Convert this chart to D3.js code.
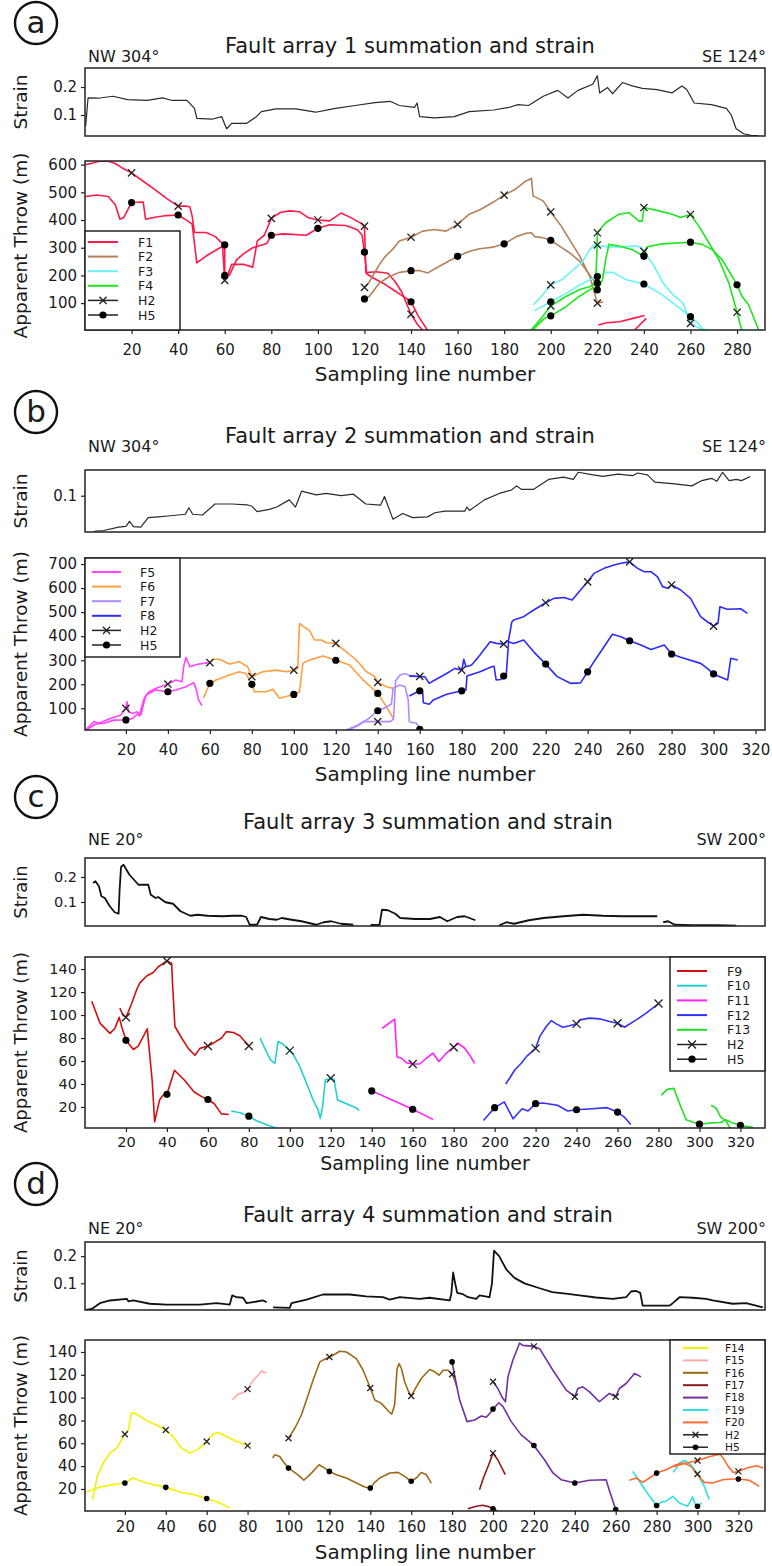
<!DOCTYPE html>
<html>
<head>
<meta charset="utf-8">
<script src="https://cdn.jsdelivr.net/npm/d3@7"></script>
<style>
  body { margin: 0; background: #fff; }
  text { font-family: "DejaVu Sans", sans-serif; fill: #1a1a1a; }
</style>
</head>
<body>
<svg id="chart" width="772" height="1566"></svg>
<script>
// ---------- data: [sampling line, value] ----------
// panel a (fault array 1)
const strainA = [[0.3,0.061],[1.3,0.161],[5.6,0.16],[12,0.167],[18.3,0.155],[26.8,0.152],[33.2,0.161],[37.5,0.152],[43.8,0.152],[47,0.124],[48,0.088],[54.5,0.085],[58.7,0.094],[60.8,0.051],[63,0.07],[69.3,0.07],[73.6,0.094],[75.7,0.112],[82,0.122],[90.6,0.122],[99,0.11],[107.6,0.124],[116,0.134],[124.5,0.144],[131,0.149],[135,0.134],[141.5,0.127],[142.6,0.143],[143.7,0.094],[150,0.09],[158.5,0.094],[165,0.112],[175.5,0.118],[182,0.127],[186,0.137],[190.4,0.134],[196.8,0.167],[203,0.188],[207.4,0.161],[211.7,0.188],[218,0.21],[220,0.24],[221,0.179],[224.4,0.198],[226.5,0.176],[230.8,0.216],[235,0.204],[239.3,0.195],[245.7,0.191],[252,0.179],[256.3,0.204],[258.4,0.191],[261.6,0.143],[269,0.137],[275.4,0.124],[277.5,0.1],[279.6,0.051],[282.8,0.033],[286,0.027],[289,0.026]];
const f1H2 = [[0.3,600],[3,605],[6,612],[10,612],[13,604],[16,588],[20,570],[25,540],[30,510],[35,478],[40,450],[43,450],[45,448],[46,415],[47,355],[52,355],[56,340],[59,315],[60,182],[61,195],[63,240],[68,240],[72,230],[74,325],[77,345],[80,406],[84,428],[88,433],[92,430],[96,408],[100,400],[105,397],[110,425],[115,405],[119,385],[120,378],[120.6,210],[125,213],[130,208],[133,180],[136,140],[140,60],[143,20],[145,3]];
const f1H5 = [[0.3,485],[5,490],[10,485],[13,455],[15,403],[16.6,409],[20,463],[25,465],[26,403],[30,410],[35,416],[40,418],[44,397],[46,385],[48,245],[52,270],[56,290],[60,310],[60,200],[62,200],[65,255],[68,278],[72,300],[76,310],[78,315],[80,345],[85,350],[95,345],[100,370],[105,383],[112,380],[117,365],[119,345],[120,284],[121,205],[124,190],[128,172],[132,150],[136,128],[140,105],[143,55],[147,3]];
const f1H2b = [[220.4,21],[224,29],[229.6,33],[235.3,45],[240.3,55]];
const f1H5b = [[236,3],[241,45]];
const f2H2 = [[120,157],[122,175],[124,205],[126.4,239],[129,269],[132,293],[135,324],[140,338],[145,360],[150,366],[155,360],[160,384],[165,421],[170,439],[175,463],[180,490],[185,512],[189.5,542],[191.7,550],[192.4,487],[196.7,469],[200,429],[204,384],[208,330],[212.5,269],[216.8,196],[220,100],[222.5,105]];
const f2H5 = [[120,115],[122,124],[126.4,172],[130.7,196],[135,211],[140,217],[143.6,218],[147.2,209],[152.2,233],[160,269],[165.2,287],[169.5,296],[175.2,302],[180,314],[185.2,340],[189.5,352],[191.7,354],[193.1,340],[196.7,336],[200,327],[203.9,305],[208.2,281],[212.5,251],[216.1,209],[218.2,184],[220,172]];
const f3H2 = [[192.4,93],[195.3,118],[200,166],[204.6,184],[208.9,215],[213.2,245],[216.8,293],[218.9,312],[220,310],[221.1,306],[225.4,303],[231.1,303],[236.8,306],[239,300],[240,287],[244,239],[248.3,172],[252.5,130],[256.8,100],[260,27],[264,9],[267.5,1]];
const f3H5 = [[193.1,73],[200,105],[206.8,136],[212.5,166],[218.2,190],[220,196],[223.9,211],[226.8,211],[232.5,184],[240,169],[246.8,136],[252.5,100],[258.2,63],[260,51],[263.3,27],[265.5,3]];
const f4H2 = [[191.6,3],[195.9,45],[200,90],[206.5,124],[212.2,148],[217.9,163],[219.3,184],[219.7,257],[220,354],[223.6,390],[229.3,421],[233.6,427],[237.9,396],[239.3,396],[240,445],[246.4,433],[252.2,421],[255.7,409],[260,420],[263.6,378],[267.9,318],[272.2,257],[276.5,172],[280,67],[282.2,-3]];
const f4H5 = [[192.3,3],[197.3,45],[200,54],[206.5,87],[212.2,124],[217.9,154],[220,148],[222.2,184],[223.6,257],[225,312],[229.3,306],[235,293],[240,269],[241.4,303],[247.8,314],[260,320],[265,312],[269.3,293],[273.6,257],[277.9,196],[280,166],[282.2,124],[285,93],[289.3,3]];

// panel b (fault array 2)
const strainB = [[4.7,0.006],[9.4,0.008],[16.5,0.017],[20,0.019],[21.7,0.032],[23.6,0.018],[27.1,0.017],[30.6,0.042],[35.4,0.044],[41.2,0.047],[48.3,0.051],[50,0.068],[51.8,0.051],[56.5,0.049],[62.4,0.078],[70.6,0.078],[77.7,0.076],[80.1,0.072],[82.5,0.058],[88.3,0.064],[91.9,0.07],[97.8,0.089],[100.8,0.07],[103.7,0.112],[110.7,0.102],[115.4,0.106],[122.5,0.1],[128.4,0.104],[134.3,0.078],[141.3,0.075],[143.2,0.098],[147.2,0.038],[151.9,0.053],[156.6,0.042],[163.7,0.044],[167.2,0.055],[172,0.059],[181.4,0.059],[182.5,0.07],[183.7,0.061],[190.8,0.089],[197.9,0.106],[203.7,0.115],[206.1,0.126],[208.4,0.117],[214.3,0.117],[221.4,0.143],[228.4,0.149],[233.2,0.143],[235.5,0.162],[242.6,0.155],[247.3,0.151],[254.4,0.157],[261.4,0.153],[263.8,0.16],[268.5,0.155],[272,0.136],[280.3,0.132],[289.7,0.126],[294.4,0.14],[299.1,0.146],[301.5,0.138],[304.3,0.162],[307.4,0.14],[310.9,0.143],[313.3,0.14],[317.5,0.151]];
const f5H2 = [[0.8,10],[4.8,45],[7.2,38],[11.9,56],[17.5,72],[20,100],[20.5,128],[21.2,86],[23.1,79],[25.5,86],[26.3,68],[28.7,142],[31,169],[35,186],[40,201],[43.8,218],[46.7,211],[47.5,273],[48.6,312],[50.5,273],[54.1,283],[59.4,290]];
const f5H5 = [[1.1,10],[5.6,35],[9.6,38],[14.3,51],[20,52],[23.1,58],[26,79],[27.1,72],[29.5,155],[34.2,176],[40,169],[43.8,176],[48.6,190],[52.2,207],[53.4,183],[54.6,135],[56.2,111]];
const f6H2 = [[60,290],[61.3,304],[64.5,304],[69.3,284],[74,294],[78,273],[80,232],[85.2,252],[91.6,259],[96.4,252],[100,259],[101.9,266],[102.7,453],[105.1,437],[107.5,423],[109.9,384],[113.1,384],[115.5,373],[120,370],[125,335],[129.8,301],[134.6,252],[138.6,232],[140,208],[144.1,190],[147.3,183]];
const f6H5 = [[56.9,142],[60,204],[63,218],[69.3,239],[74,252],[77.2,245],[80,200],[81.2,169],[86.8,169],[90,179],[93.2,142],[97.2,151],[100,158],[102.7,169],[104.3,287],[107.5,301],[113.9,318],[120,300],[126.6,280],[133,218],[140,162],[144.1,107],[147.3,58]];
const f7H2 = [[125,10],[130.6,31],[133,45],[140,45],[146,45],[147.5,55],[148.5,215],[150.5,238],[153,245],[155.3,236],[157.5,236]];
const f7H5 = [[126,10],[131,30],[136,60],[140,90],[144,105],[146.5,118],[147.3,183],[150.5,197],[153,190],[154.5,135],[155,44],[158.5,38],[160,13]];
const f8H2 = [[155,234],[160,233],[162.5,231],[164.5,204],[167.2,218],[172.8,245],[176.8,266],[180,259],[181,304],[182,273],[184.7,280],[188.7,322],[193.5,377],[196.7,370],[200,367],[202.3,384],[203.9,460],[204.7,467],[209.5,481],[214.3,509],[220,539],[223.9,557],[228.7,561],[232.6,550],[236.6,592],[240,626],[243,661],[247.8,682],[252.6,696],[255.8,703],[260,709],[263.8,682],[267,668],[270.2,668],[273.3,647],[275.7,606],[278.2,599],[280,613],[284.3,592],[289,557],[293.8,481],[297,460],[300,442],[302.1,453],[303,522],[306.5,512],[312.9,514],[316.1,495]];
const f8H5 = [[155,151],[160,173],[161.4,168],[161.7,123],[164.5,117],[166.5,135],[172.8,159],[180,173],[182,176],[182.5,234],[188.7,252],[194.3,273],[195.4,275],[196.4,218],[198.6,220],[200,234],[201.2,236],[202.3,377],[204.7,370],[209.5,384],[214.3,335],[220,284],[225.5,232],[231.8,204],[236.6,206],[240,252],[243,294],[247.8,356],[251.8,408],[255.8,398],[260,381],[265.3,363],[270.2,345],[276.5,363],[280,326],[284.3,312],[293.8,287],[297,266],[300,243],[302.7,232],[306.7,218],[308.2,308],[311.5,301]];

// panel c (fault array 3)
const strainC = [[3.9,0.176],[5.1,0.183],[6.8,0.163],[8,0.123],[9.7,0.116],[12.1,0.083],[14.5,0.059],[16.4,0.053],[16.9,0.149],[17.6,0.24],[18.8,0.249],[21.7,0.209],[26.1,0.169],[30.9,0.169],[32.1,0.129],[34.5,0.116],[35.7,0.12],[39.3,0.099],[43,0.093],[46.6,0.063],[51.4,0.045],[55,0.049],[59.8,0.045],[67.1,0.043],[71.9,0.045],[76.7,0.045],[78.7,0.04],[80.4,0.009],[84,0.009],[85.9,0.04],[90,0.032],[93.6,0.029],[96,0.036],[100.9,0.029],[105.7,0.023],[112.9,0.009],[116.5,0.019],[120.2,0.023],[125,0.013],[131,0.009],[135,null],[139.5,0.008],[143.8,0.009],[145,0.069],[147.9,0.067],[151.5,0.053],[153.9,0.036],[161.2,0.032],[168.4,0.032],[173.3,0.04],[176.9,0.023],[181.7,0.04],[185.3,0.043],[187.7,0.036],[190.6,0.027],[196,null],[202.2,0.007],[205.8,0.019],[209.5,0.013],[216.7,0.027],[223.9,0.036],[233.6,0.043],[243.2,0.049],[252.9,0.045],[262.5,0.043],[272.2,0.043],[279.4,0.043],[281,null],[282.3,0.019],[284.7,0.023],[287.9,0.009],[296.3,0.007],[308.4,0.007],[318,0.005]];
const f9H2 = [[17,106],[18.5,100],[20,98],[22.8,110],[25.2,122],[26.8,128],[30.1,134],[33.3,137],[35.8,142],[40,147],[42.3,145],[42.8,125],[43.9,90],[47.2,80],[50.4,71],[53.7,65],[56.1,71],[60,73],[62.6,75.5],[66.7,80],[69.1,85.6],[72.4,84.8],[75.6,82],[80,73]];
const f9H5 = [[3.3,112],[7.3,93],[12.2,84],[14.6,88.5],[16.7,98],[17.9,90],[20,78],[23.6,70],[26,73],[30.4,88],[32.8,43],[34,7],[36.4,26],[38,30],[40,31],[43.7,52],[48.5,43.5],[53.3,33],[57,29],[60,26.5],[63,23],[66.6,14],[70.2,13.5]];
const f10H2 = [[85.5,80],[88.6,68],[90.6,61],[92.7,58],[94.3,77],[96.4,75],[100,69],[101.6,66],[104.9,55],[108.1,41],[111.4,26],[113.7,18],[114.9,10],[116.1,21.5],[117.3,43.5],[120,45],[121.6,44],[123.3,26],[125.7,24.4],[129.4,21.5],[132.3,19.4],[133.7,17]];
const f10H5 = [[71.4,16.5],[76.2,14.7],[80,12],[83.5,8.2],[88.3,4.7],[94.4,1]];
const f11H2 = [[145.2,88.5],[151.2,96.4],[152.3,63.8],[154.5,62.4],[156.9,58.6],[160,57.4],[163.4,57.4],[166.7,62.4],[169.9,66.8],[172.8,59.5],[176.4,66.8],[180,72],[182.1,75.5],[185.4,71.1],[187.8,65.3],[190.2,58]];
const f11H5 = [[140,34],[150,26],[160,18],[170,9]];
const f12H2 = [[205.4,40],[207.3,45],[209.8,52.2],[213,58],[215.5,63.8],[220,71],[222,81.2],[225.2,90],[227.7,95.2],[230.1,92.3],[233.3,89.4],[236.6,90.6],[240,92.3],[241.5,95.8],[246.3,97.3],[251.2,96.7],[256.1,94.3],[260,92.9],[263.4,89.4],[269.1,95.8],[274,101.6],[280,110]];
const f12H5 = [[194.5,8.2],[200,19.4],[204.7,24.4],[209,9.7],[213.4,18.5],[216.3,16.5],[220,22.9],[223.5,23.5],[230.7,21.5],[235.6,16.5],[240,17.6],[247.6,18.5],[254.9,19.4],[260,15.6],[263.3,11.2],[266.5,4.7]];
const f13H2 = [[305.6,21.5],[308,19.4],[310.4,11.2],[312.8,8.2],[315.2,1]];
const f13H5 = [[281.4,30.3],[284.3,35.3],[287.5,36.2],[290.6,21.5],[293.5,8.8],[297.1,6.8],[300,5],[304.4,5.9],[310.4,6.5],[312.8,8.8],[315.2,6.8],[320,4],[326.1,2.4]];

// panel d (fault array 4)
const strainD = [[1,0.002],[3.8,0.006],[7.8,0.027],[12.7,0.037],[20.9,0.043],[21.7,0.034],[24.1,0.037],[32.2,0.025],[40.4,0.022],[56.7,0.022],[64.8,0.027],[71.3,0.022],[72.5,0.056],[74.6,0.049],[77.8,0.047],[79.5,0.027],[82.7,0.031],[87.6,0.037],[89.3,0.031],[90.5,null],[92.5,0.012],[100.6,0.01],[101.5,0.027],[108.8,0.04],[116.9,0.059],[130,0.059],[138,0.052],[146.2,0.049],[149.5,0.04],[154.4,0.049],[164.1,0.043],[169,0.047],[178.8,0.037],[179.6,0.06],[180.5,0.14],[181.5,0.1],[182.5,0.065],[185.3,0.06],[187.8,0.049],[191.8,0.043],[193.4,0.056],[198.3,0.049],[199.5,0.1],[200.5,0.22],[203,0.2],[206.6,0.15],[210.5,0.12],[215.4,0.1],[222.8,0.082],[229,0.068],[235.6,0.062],[242.3,0.056],[250.4,0.048],[258.6,0.043],[265.1,0.049],[267.5,0.07],[270,0.072],[272,0.065],[273.2,0.018],[286.3,0.018],[287.9,0.027],[291.2,0.049],[297.7,0.047],[304.2,0.043],[307.4,0.037],[317.2,0.025],[323.8,0.027],[331.9,0.012]];
const f14H2 = [[4.2,10.7],[6.5,31],[9.4,42.7],[12.7,51.4],[16,55.7],[20,68],[21.7,71.7],[23.3,86.8],[25.7,85.7],[31.4,79],[35.5,76.1],[40,71.7],[43.6,65.9],[47.7,55.7],[51.8,51.4],[55.9,54.9],[60,61.6],[63.2,68.2],[65.6,69.4],[69.7,65.9],[74.6,61.6],[80,58]];
const f14H5 = [[0.5,17.1],[7.8,21.7],[14.3,23.8],[20,25.2],[23.8,29.6],[30.6,25.2],[40,21.4],[46.9,17.4],[53.4,15.1],[60,11.6],[66.4,7.8],[71.3,3.4]];
const f15H2 = [[72.5,97.9],[75.4,103.1],[77.8,104.3],[80,107.5],[82.7,115.3],[85.2,119.7],[86.8,123.4],[89.2,121.1]];
const f16H2 = [[100,64.5],[103.1,73.2],[106.3,84.8],[108.8,97.9],[112,115.3],[115.3,131.3],[117.7,133.6],[120,135.6],[121.8,137.1],[125,140.6],[128.3,140],[133.2,134.2],[136.5,124],[140,108.5],[142.2,97.9],[145.4,95],[148.7,88.5],[150.5,85.5],[151.9,93.5],[153.1,125.5],[154.1,129.8],[155.2,125.5],[156.8,113.9],[158.4,106.6],[160,101.4],[162.5,109.5],[164.9,116.8],[169,124.6],[171.5,122.6],[173.6,119.7],[175.6,124],[178,124],[180,120.5],[181.3,115.3],[182.4,108.9]];
const f16H5 = [[92.2,47],[93.3,49.9],[95.7,48.5],[97.4,44.1],[100,38.3],[102.3,35.4],[105,31.9],[107.5,27.6],[111.2,33.9],[115,41.2],[117.7,38.3],[120,35.4],[123.4,32.5],[128.3,29.6],[133.2,25.2],[137.3,21.7],[140,20.9],[142.2,25.8],[144.6,29.6],[149.5,34],[153.6,34.5],[156.8,31],[160,26.7],[162.5,29.6],[164.9,34.5],[167.4,32.5],[169.8,25.2]];
const f17H2 = [[193.4,19.4],[195.3,29.6],[197.9,41.2],[200,51.4],[202.3,45.6],[206,32.5]];
const f17H5 = [[187.7,2.6],[191.8,4.9],[195,5.8],[198.3,4.3],[200,2.6],[202.3,0.5]];
const f18H2 = [[200,113.9],[202.4,108],[204.5,100.2],[206.1,96.4],[207.3,118.2],[209.7,132.7],[213,147.8],[214.6,145.8],[220,144.9],[222.8,142.9],[229.3,124],[235.8,106.6],[240,100.8],[241.5,108],[243.9,109.5],[247.2,105.1],[252,96.4],[256.9,103.7],[260,100.8],[261.8,108],[265.1,112.4],[269.2,121.1],[272.4,118.2]];
const f18H5 = [[180,131.3],[182,112.4],[183.7,97.9],[187.3,79],[191,80.4],[194.3,83.9],[196.7,82.8],[199.1,87.7],[200,90],[202.9,95.5],[204.9,92.1],[208.9,79],[213.8,67.4],[220,58.1],[225.2,45.6],[229.3,34],[233.3,28.1],[240,25.2],[247.2,27.6],[255.3,28.1],[257.3,16.5],[260,2]];
const f19H2 = [[288.2,34.5],[291.1,42.7],[293.6,45],[296.8,41.2],[300,33.1],[303.3,22.3],[305.7,10.7]];
const f19H5 = [[268.3,35.4],[271.6,26.7],[274.8,18],[278.1,10.1],[280,5.5],[282.2,8.4],[284.6,9.3],[287.9,13.6],[291.1,7.8],[295.2,4.9],[297.6,13],[298.9,6.3],[300,4.9],[302.1,7.8]];
const f20H2 = [[288.2,39.8],[294.7,42.7],[300,45],[306.1,48.5],[311,50.5],[312.6,47],[315,39.8],[317.5,34.5],[320,35.4],[324,38.3],[328.9,40.3],[332.1,38.3]];
const f20H5 = [[266.7,27.6],[270,29.6],[273.2,25.8],[276.5,29.6],[280,33.9],[284.6,36.9],[289.5,41.2],[293.1,42.7],[296.8,39.8],[299.5,33.4],[303.3,25.8],[307.4,25.2],[312.3,28.1],[317.2,28.7],[320,28.7],[325.3,27.6],[330.2,22.3]];

// ---------- panel setup ----------
const L = 85, R = 765;
const colors = {
  F1: '#ff1a47', F2: '#b4825a', F3: '#66f4f4', F4: '#1ee61e',
  F5: '#ff44ff', F6: '#ff9f3f', F7: '#ad8cff', F8: '#2b2bff',
  F9: '#d01010', F10: '#22d0d0', F11: '#ff22ff', F12: '#3232ff', F13: '#22e022',
  F14: '#f2f200', F15: '#ffaaaa', F16: '#9c6a16', F17: '#8b1a1a', F18: '#7030a0', F19: '#30e0e0', F20: '#ff6a30'
};

const panels = [
  { letter: 'a', title: 'Fault array 1 summation and strain', dirL: 'NW 304°', dirR: 'SE 124°',
    circleY: 23, titleX: 410, titleY: 53, dirY: 62,
    sBox: [68, 136], sDom: [0.025, 0.268], sTicks: [0.1, 0.2], strain: strainA, sW: 1.2, sCol: '#2a2a2a',
    tBox: [161, 330], tDom: [3, 613], tTicks: d3.range(100, 601, 100),
    xDom: [0, 292], xTicks: d3.range(20, 281, 20), tickFs: 15, labFs: 18.5, xlabFs: 20, tickY: 355, xlabY: 381,
    series: [['F1', f1H2, 'H2'], ['F1', f1H5, 'H5'], ['F1', f1H2b, null], ['F1', f1H5b, null],
             ['F2', f2H2, 'H2'], ['F2', f2H5, 'H5'], ['F3', f3H2, 'H2'], ['F3', f3H5, 'H5'],
             ['F4', f4H2, 'H2'], ['F4', f4H5, 'H5']],
    legend: { names: ['F1', 'F2', 'F3', 'F4'], x: 85, y: 231, w: 95, h: 99, row: 14.6, first: 11, lx: 3, lw: 30, tx: 53, fs: 12.5 },
    mk: 3.6, dot: 3.6 },
  { letter: 'b', title: 'Fault array 2 summation and strain', dirL: 'NW 304°', dirR: 'SE 124°',
    circleY: 412, titleX: 410, titleY: 443, dirY: 452,
    sBox: [470, 532], sDom: [0.004, 0.168], sTicks: [0.1], strain: strainB, sW: 1.2, sCol: '#2a2a2a',
    tBox: [558, 730], tDom: [10, 725], tTicks: d3.range(100, 701, 100),
    xDom: [0.5, 324.5], xTicks: d3.range(20, 321, 20), tickFs: 15, labFs: 18.5, xlabFs: 20, tickY: 755, xlabY: 781,
    series: [['F5', f5H2, 'H2'], ['F5', f5H5, 'H5'], ['F6', f6H2, 'H2'], ['F6', f6H5, 'H5'],
             ['F7', f7H2, 'H2'], ['F7', f7H5, 'H5'], ['F8', f8H2, 'H2'], ['F8', f8H5, 'H5']],
    legend: { names: ['F5', 'F6', 'F7', 'F8'], x: 85, y: 558, w: 95, h: 99, row: 14.6, first: 14, lx: 7, lw: 29, tx: 55, fs: 12.5 },
    mk: 3.6, dot: 3.6 },
  { letter: 'c', title: 'Fault array 3 summation and strain', dirL: 'NE 20°', dirR: 'SW 200°',
    circleY: 797, titleX: 428, titleY: 829, dirY: 845,
    sBox: [858, 926], sDom: [0.004, 0.276], sTicks: [0.1, 0.2], strain: strainC, sW: 1.8, sCol: '#111',
    tBox: [957, 1128], tDom: [1.7, 150.5], tTicks: d3.range(20, 141, 20),
    xDom: [0, 332], xTicks: d3.range(20, 321, 20), tickFs: 14.5, labFs: 18, xlabFs: 19, tickY: 1147, xlabY: 1170,
    series: [['F9', f9H2, 'H2'], ['F9', f9H5, 'H5'], ['F10', f10H2, 'H2'], ['F10', f10H5, 'H5'],
             ['F11', f11H2, 'H2'], ['F11', f11H5, 'H5'], ['F12', f12H2, 'H2'], ['F12', f12H5, 'H5'],
             ['F13', f13H2, null], ['F13', f13H5, 'H5']],
    legend: { names: ['F9', 'F10', 'F11', 'F12', 'F13'], x: 670, y: 957, w: 95, h: 114, row: 14.7, first: 14, lx: 7, lw: 30, tx: 57, fs: 12.5 },
    mk: 4, dot: 3.6 },
  { letter: 'd', title: 'Fault array 4 summation and strain', dirL: 'NE 20°', dirR: 'SW 200°',
    circleY: 1184, titleX: 428, titleY: 1222, dirY: 1234,
    sBox: [1242, 1310], sDom: [0.002, 0.252], sTicks: [0.1, 0.2], strain: strainD, sW: 1.8, sCol: '#111',
    tBox: [1340, 1511], tDom: [0.7, 150.5], tTicks: d3.range(20, 141, 20),
    xDom: [0.5, 333], xTicks: d3.range(20, 321, 20), tickFs: 15, labFs: 18, xlabFs: 20, tickY: 1532, xlabY: 1559,
    series: [['F14', f14H2, 'H2'], ['F14', f14H5, 'H5'], ['F15', f15H2, 'H2'],
             ['F16', f16H2, 'H2'], ['F16', f16H5, 'H5'], ['F17', f17H2, 'H2'], ['F17', f17H5, 'H5'],
             ['F18', f18H2, 'H2'], ['F18', f18H5, 'H5'], ['F19', f19H2, 'H2'], ['F19', f19H5, 'H5'],
             ['F20', f20H2, 'H2'], ['F20', f20H5, 'H5']],
    legend: { names: ['F14', 'F15', 'F16', 'F17', 'F18', 'F19', 'F20'], x: 670, y: 1340, w: 95, h: 114, row: 12.4, first: 8, lx: 13, lw: 25, tx: 55, fs: 10.6 },
    mk: 3, dot: 2.8 }
];

const svg = d3.select('#chart');

function drawMarker(g, kind, cx, cy, p) {
  if (kind === 'H2') {
    const s = p.mk;
    g.append('path')
      .attr('d', `M${cx - s},${cy - s}L${cx + s},${cy + s}M${cx - s},${cy + s}L${cx + s},${cy - s}`)
      .attr('stroke', '#222').attr('stroke-width', 1.3).attr('fill', 'none');
  } else {
    g.append('circle').attr('cx', cx).attr('cy', cy).attr('r', p.dot).attr('fill', '#000');
  }
}

function styleAxis(g, fs) {
  g.select('.domain').remove();
  g.selectAll('.tick line').attr('stroke', '#222').attr('stroke-width', 1.2);
  g.selectAll('.tick text').attr('font-size', fs).attr('fill', '#1a1a1a')
    .attr('font-family', '"DejaVu Sans", sans-serif');
}

panels.forEach((p, pi) => {
  const g = svg.append('g');
  const x = d3.scaleLinear().domain(p.xDom).range([L, R]);
  const ys = d3.scaleLinear().domain(p.sDom).range([p.sBox[1], p.sBox[0]]);
  const yt = d3.scaleLinear().domain(p.tDom).range([p.tBox[1], p.tBox[0]]);

  // panel letter in a circle
  g.append('circle').attr('cx', 36).attr('cy', p.circleY).attr('r', 21)
    .attr('fill', 'none').attr('stroke', '#111').attr('stroke-width', 2.4);
  g.append('text').attr('x', 36).attr('y', p.circleY + 10).attr('text-anchor', 'middle')
    .attr('font-size', 31).text(p.letter);

  // titles
  g.append('text').attr('x', p.titleX).attr('y', p.titleY).attr('text-anchor', 'middle')
    .attr('font-size', 21).text(p.title);
  g.append('text').attr('x', 88).attr('y', p.dirY).attr('font-size', 16).text(p.dirL);
  g.append('text').attr('x', 766).attr('y', p.dirY).attr('text-anchor', 'end').attr('font-size', 16).text(p.dirR);

  // clip paths
  const defs = g.append('defs');
  defs.append('clipPath').attr('id', 'cs' + pi).append('rect')
    .attr('x', L).attr('y', p.sBox[0]).attr('width', R - L).attr('height', p.sBox[1] - p.sBox[0]);
  defs.append('clipPath').attr('id', 'ct' + pi).append('rect')
    .attr('x', L).attr('y', p.tBox[0]).attr('width', R - L).attr('height', p.tBox[1] - p.tBox[0]);

  // strain subplot
  const sLine = d3.line().defined(d => d[1] !== null).x(d => x(d[0])).y(d => ys(d[1]));
  g.append('path').datum(p.strain).attr('d', sLine).attr('clip-path', `url(#cs${pi})`)
    .attr('fill', 'none').attr('stroke', p.sCol).attr('stroke-width', p.sW).attr('stroke-linejoin', 'round');
  const sAx = g.append('g').attr('transform', `translate(${L},0)`)
    .call(d3.axisLeft(ys).tickValues(p.sTicks).tickSize(4).tickPadding(4).tickFormat(d3.format('.1f')));
  styleAxis(sAx, p.tickFs);
  g.append('rect').attr('x', L).attr('y', p.sBox[0]).attr('width', R - L).attr('height', p.sBox[1] - p.sBox[0])
    .attr('fill', 'none').attr('stroke', '#222').attr('stroke-width', 1.5);
  g.append('text').attr('transform', `translate(27,${(p.sBox[0] + p.sBox[1]) / 2}) rotate(-90)`)
    .attr('text-anchor', 'middle').attr('font-size', p.labFs).text('Strain');

  // throw subplot
  const tLine = d3.line().x(d => x(d[0])).y(d => yt(d[1]));
  const plot = g.append('g').attr('clip-path', `url(#ct${pi})`);
  p.series.forEach(([name, pts]) => {
    plot.append('path').datum(pts).attr('d', tLine).attr('fill', 'none')
      .attr('stroke', colors[name]).attr('stroke-width', 1.6).attr('stroke-linejoin', 'round');
  });
  p.series.forEach(([name, pts, kind]) => {
    if (!kind) return;
    pts.filter(d => d[0] > 0 && d[0] % 20 === 0).forEach(d => drawMarker(plot, kind, x(d[0]), yt(d[1]), p));
  });

  const tAx = g.append('g').attr('transform', `translate(${L},0)`)
    .call(d3.axisLeft(yt).tickValues(p.tTicks).tickSize(4).tickPadding(4));
  styleAxis(tAx, p.tickFs);
  const xAx = g.append('g').attr('transform', `translate(0,${p.tBox[1]})`)
    .call(d3.axisBottom(x).tickValues(p.xTicks).tickSize(4).tickPadding(p.tickY - p.tBox[1] - 4 - p.tickFs * 0.76));
  styleAxis(xAx, p.tickFs);
  xAx.selectAll('.tick text').attr('dy', '0.76em');

  g.append('rect').attr('x', L).attr('y', p.tBox[0]).attr('width', R - L).attr('height', p.tBox[1] - p.tBox[0])
    .attr('fill', 'none').attr('stroke', '#222').attr('stroke-width', 1.5);
  g.append('text').attr('transform', `translate(27,${(p.tBox[0] + p.tBox[1]) / 2}) rotate(-90)`)
    .attr('text-anchor', 'middle').attr('font-size', p.labFs).text('Apparent Throw (m)');
  g.append('text').attr('x', (L + R) / 2).attr('y', p.xlabY).attr('text-anchor', 'middle')
    .attr('font-size', p.xlabFs).text('Sampling line number');

  // legend
  const lg = p.legend;
  const leg = g.append('g').attr('transform', `translate(${lg.x},${lg.y})`);
  leg.append('rect').attr('width', lg.w).attr('height', lg.h)
    .attr('fill', '#fff').attr('stroke', '#222').attr('stroke-width', 1.5);
  const entries = lg.names.map(n => ({ label: n, color: colors[n] }))
    .concat([{ label: 'H2', color: '#222', kind: 'H2' }, { label: 'H5', color: '#222', kind: 'H5' }]);
  entries.forEach((e, i) => {
    const yy = lg.first + i * lg.row;
    leg.append('line').attr('x1', lg.lx).attr('x2', lg.lx + lg.lw).attr('y1', yy).attr('y2', yy)
      .attr('stroke', e.color).attr('stroke-width', e.kind ? 1.5 : 2);
    if (e.kind) drawMarker(leg, e.kind, lg.lx + lg.lw / 2, yy, p);
    leg.append('text').attr('x', lg.tx).attr('y', yy).attr('dy', '0.36em')
      .attr('font-size', lg.fs).text(e.label);
  });
});
</script>
</body>
</html>
